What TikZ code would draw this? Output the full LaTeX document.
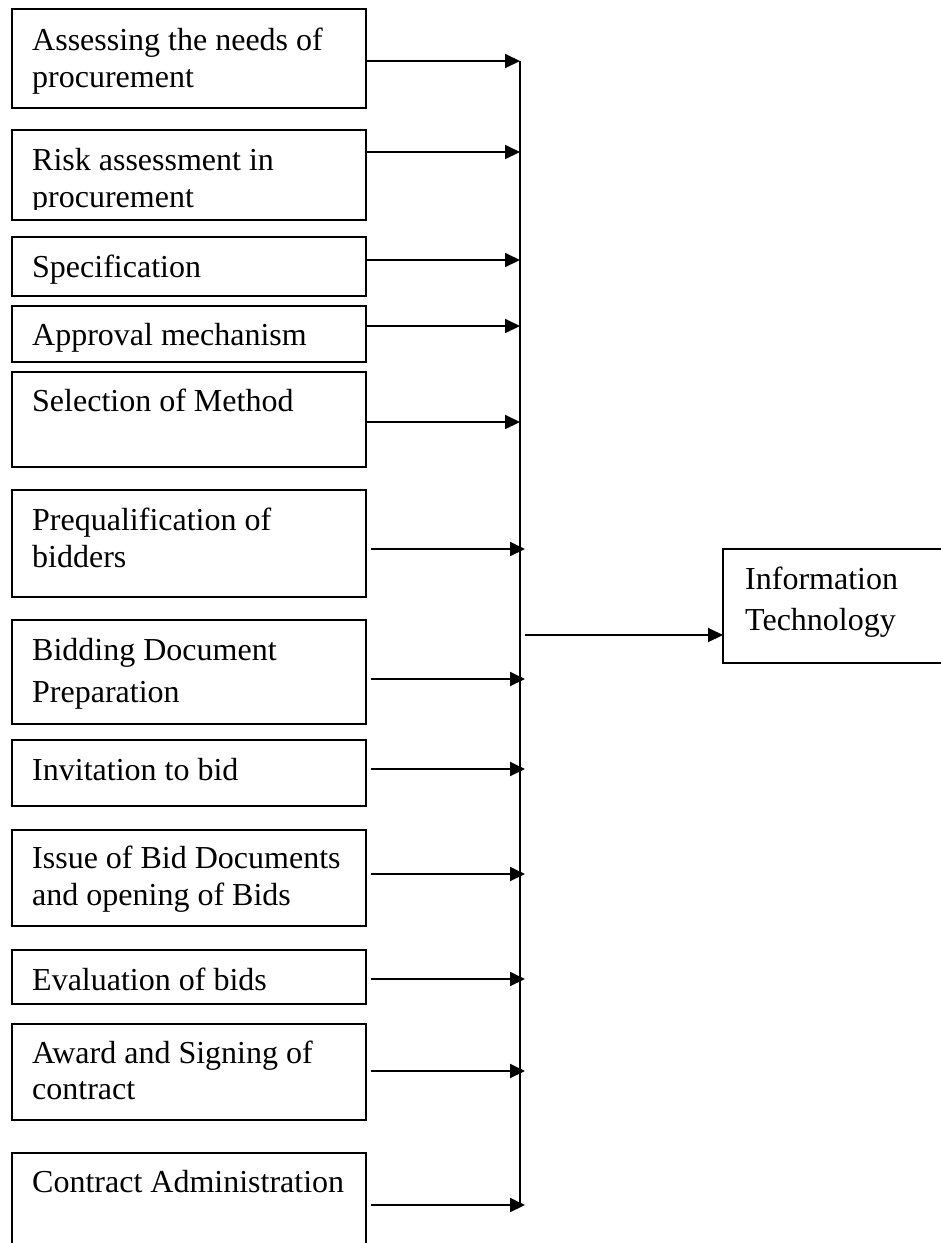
\documentclass[tikz,border=0pt]{standalone}
\usepackage{fontspec}
\setmainfont{Liberation Serif}
\usetikzlibrary{arrows.meta}
\begin{document}
\begin{tikzpicture}[x=1pt,y=-1pt,
  boxnode/.style={draw,line width=2.2pt,inner sep=0pt,outer sep=0pt,minimum width=354pt},
  txt/.style={anchor=base west,inner sep=0pt,font=\fontsize{32}{37}\selectfont},
  conn/.style={line width=2pt,-{Triangle[length=15pt,width=14pt]}},
  busline/.style={line width=2pt}]
\useasboundingbox (0,0) rectangle (941,1243);
\clip (0,0) rectangle (941,1243);
% boxes: centre x = 189, width 354
\node[boxnode,minimum height=99pt] (b1) at (189,58.5) {};
\node[boxnode,minimum height=90pt] (b2) at (189,175) {};
\node[boxnode,minimum height=59pt] (b3) at (189,266.5) {};
\node[boxnode,minimum height=56pt] (b4) at (189,334) {};
\node[boxnode,minimum height=95pt] (b5) at (189,419.5) {};
\node[boxnode,minimum height=107pt] (b6) at (189,543.5) {};
\node[boxnode,minimum height=104pt] (b7) at (189,672) {};
\node[boxnode,minimum height=66pt] (b8) at (189,773) {};
\node[boxnode,minimum height=96pt] (b9) at (189,878) {};
\node[boxnode,minimum height=54pt] (b10) at (189,977) {};
\node[boxnode,minimum height=96pt] (b11) at (189,1072) {};
\node[boxnode,minimum height=127pt] (b12) at (189,1216.5) {};
\node[draw,line width=2.2pt,inner sep=0pt,outer sep=0pt,minimum width=260pt,minimum height=114pt] (it) at (853,606) {};
% texts
\node[txt] (t1a) at (32,50) {Assessing the needs of};
\node[txt] (t1b) at (32,87) {procurement};
\node[txt] (t2a) at (32,170) {Risk assessment in};
\begin{scope}
\clip (14,130) rectangle (364,209);
\node[txt] (t2b) at (32,207) {procurement};
\end{scope}
\node[txt] (t3) at (32,277) {Specification};
\node[txt] (t4) at (32,345) {Approval mechanism};
\node[txt] (t5) at (32,411) {Selection of Method};
\node[txt] (t6a) at (32,530) {Prequalification of};
\node[txt] (t6b) at (32,567) {bidders};
\node[txt] (t7a) at (32,660) {Bidding Document};
\node[txt] (t7b) at (32,702) {Preparation};
\node[txt] (t8) at (32,780) {Invitation to bid};
\node[txt] (t9a) at (32,868) {Issue of Bid Documents};
\node[txt] (t9b) at (32,905) {and opening of Bids};
\node[txt] (t10) at (32,990) {Evaluation of bids};
\node[txt] (t11a) at (32,1063) {Award and Signing of};
\node[txt] (t11b) at (32,1099) {contract};
\node[txt] (t12) at (32,1192) {Contract Administration};
\node[txt] (tita) at (745,589) {Information};
\node[txt] (titb) at (745,630) {Technology};
% junctions on the bus
\coordinate (j1) at (520,61);
\coordinate (j2) at (520,152);
\coordinate (j3) at (520,260);
\coordinate (j4) at (520,326);
\coordinate (j5) at (520,422);
\coordinate (j6) at (525,549);
\coordinate (j7) at (525,679);
\coordinate (j8) at (525,769);
\coordinate (j9) at (525,874);
\coordinate (j10) at (525,979);
\coordinate (j11) at (525,1071);
\coordinate (j12) at (525,1205);
\coordinate (jit) at (525,635);
\coordinate (bustop) at (520,61);
\coordinate (busbot) at (520,1205);
% bus
\draw[busline] (bustop) -- (busbot);
% connectors
\draw[conn] (b1.east|-j1) -- (j1);
\draw[conn] (b2.east|-j2) -- (j2);
\draw[conn] (b3.east|-j3) -- (j3);
\draw[conn] (b4.east|-j4) -- (j4);
\draw[conn] (b5.east|-j5) -- (j5);
\draw[conn] ([xshift=5pt]b6.east|-j6) -- (j6);
\draw[conn] ([xshift=5pt]b7.east|-j7) -- (j7);
\draw[conn] ([xshift=5pt]b8.east|-j8) -- (j8);
\draw[conn] ([xshift=5pt]b9.east|-j9) -- (j9);
\draw[conn] ([xshift=5pt]b10.east|-j10) -- (j10);
\draw[conn] ([xshift=5pt]b11.east|-j11) -- (j11);
\draw[conn] ([xshift=5pt]b12.east|-j12) -- (j12);
\draw[conn] (jit) -- (it.west|-jit);
\end{tikzpicture}
\end{document}
